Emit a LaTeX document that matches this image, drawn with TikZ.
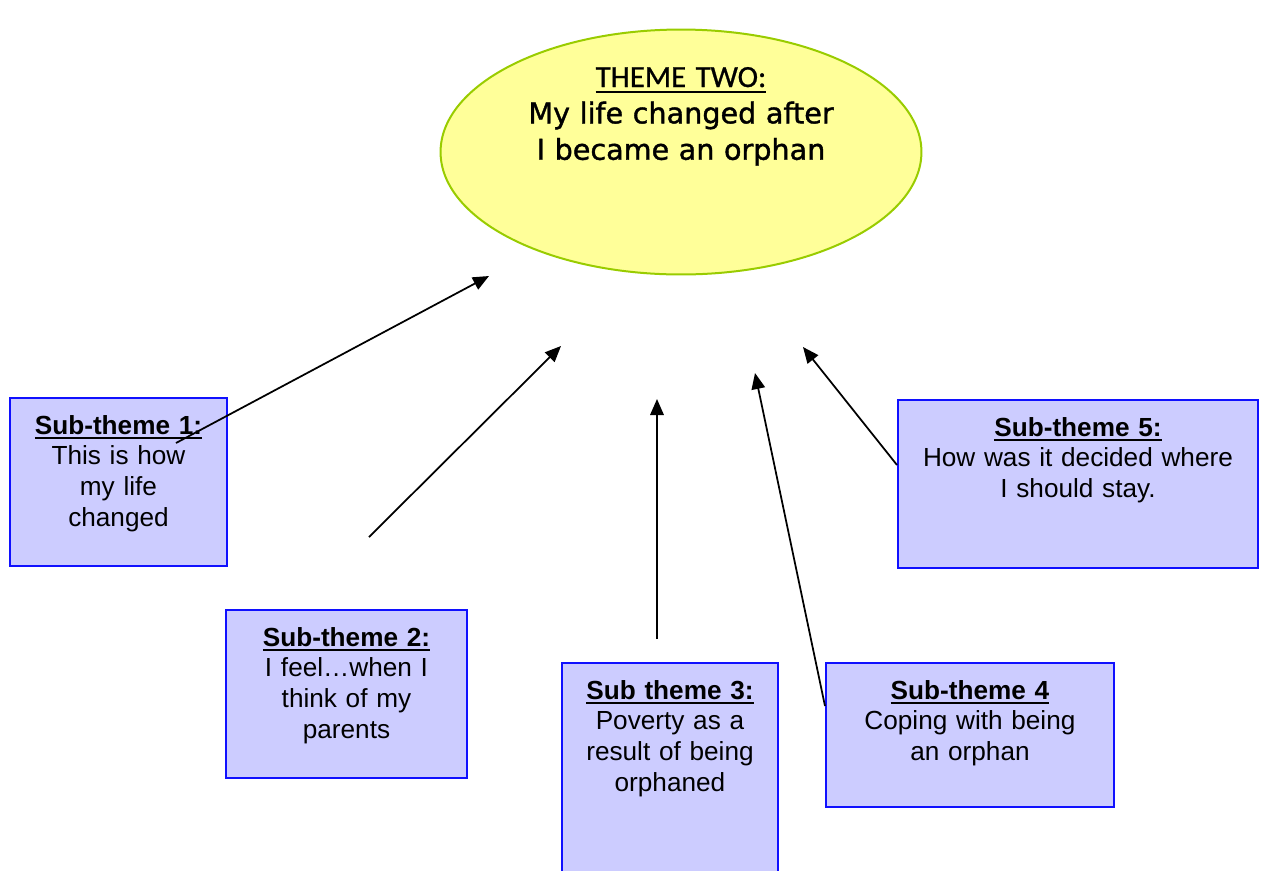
\documentclass[tikz,border=0pt]{standalone}
\usepackage{fontspec}
\setmainfont{Liberation Sans}
\newfontfamily\fonteTitulo[FakeBold=0.8]{Carlito}
\newfontfamily\fonteTema[FakeBold=1.3]{DejaVu Sans}
\usepackage{tikz}
\usepackage{tkz-euclide}
\usetikzlibrary{shapes.geometric,arrows.meta}

\definecolor{amarelo}{HTML}{FFFF99}
\definecolor{verdeBorda}{HTML}{99CC00}
\definecolor{lilas}{HTML}{CCCCFF}
\definecolor{azulBorda}{HTML}{1010FF}

%sublinhado grosso, como no original
\newcommand{\grifo}[1]{\leavevmode\setbox0=\hbox{#1}\rlap{\rule[-0.2em]{\wd0}{0.08em}}\box0}

\tikzset{
caixa/.style={draw=azulBorda, fill=lilas, line width=0.04cm, anchor=north west, inner sep=0pt, align=center, text height=0.72cm, font=\fontsize{14.9}{17.6}\selectfont},
seta/.style={-{Triangle[length=0.32cm,width=0.27cm]}, line width=0.035cm}
}

\begin{document}
\begin{tikzpicture}[x=0.02cm,y=-0.02cm] %uma unidade = um pixel da figura

\useasboundingbox (0,0) rectangle (1265,870);
\clip (0,0) rectangle (1265,870);

%Pontos das setas (x/y/NomedoPonto): cauda e ponta de cada seta
\tkzDefPoints{
176/443/A,
489/276/B,
369/537/C,
561/346/D,
657/639/E,
657/399/F,
825/706/G,
755/373/H,
897/465/I,
803/347/J}

%Tema central (elipse amarela)
%---------------------------------------------------
\node[ellipse, draw=verdeBorda, fill=amarelo, line width=0.04cm, minimum width=9.62cm, minimum height=4.9cm, inner sep=0pt] (tema) at (681,152) {};
\node[anchor=base, text width=9cm, align=center, inner sep=0pt, font=\fonteTema\fontsize{16.3}{20.7}\selectfont] (temaTexto) at (681,87) {{\fonteTitulo\fontsize{17.5}{20.7}\selectfont\grifo{THEME TWO:}}\\ My life changed after\\ I became an orphan};
%---------------------------------------------------

%Subtemas (caixas lilas)
%---------------------------------------------------
\node[caixa, text width=4.34cm, text depth=2.64cm] (sub1) at (9,397) {\grifo{\bfseries Sub-theme 1:}\\ This is how\\ my life\\ changed};
\node[caixa, text width=4.82cm, text depth=2.64cm] (sub2) at (225,609) {\grifo{\bfseries Sub-theme 2:}\\ I feel…when I\\ think of my\\ parents};
\node[caixa, text width=4.32cm, text depth=3.7cm] (sub3) at (561,662) {\grifo{\bfseries Sub theme 3:}\\ Poverty as a\\ result of being\\ orphaned};
\node[caixa, text width=5.76cm, text depth=2.16cm] (sub4) at (825,662) {\grifo{\bfseries Sub-theme 4}\\ Coping with being\\ an orphan};
\node[caixa, text width=7.2cm, text depth=2.64cm] (sub5) at (897,399) {\grifo{\bfseries Sub-theme 5:}\\ How was it decided where\\ I should stay.};
%---------------------------------------------------

%Setas dos subtemas para o tema
%---------------------------------------------------
\draw[seta] (A)--(B);

\draw[seta] (C)--(D);

\draw[seta] (E)--(F);

\draw[seta] (G)--(H);

\draw[seta] (I)--(J);
%---------------------------------------------------

\end{tikzpicture}
\end{document}
